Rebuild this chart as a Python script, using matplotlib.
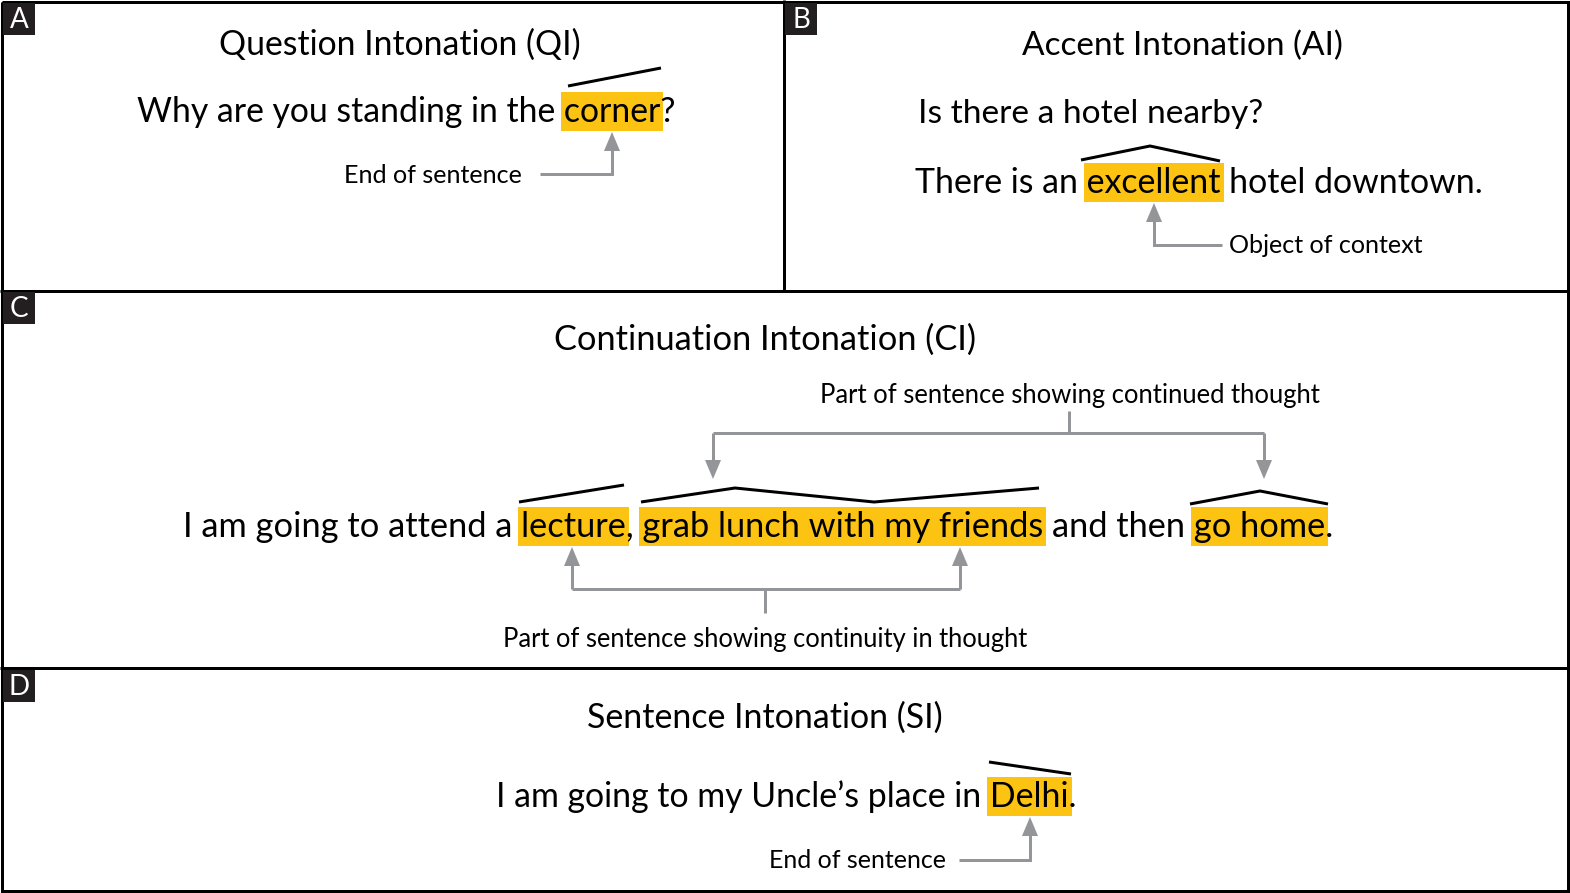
import matplotlib
matplotlib.use('Agg')
import matplotlib.pyplot as plt
from matplotlib.patches import Rectangle, Polygon

# ---------------- data (texts) ----------------
panel_letters = ['A', 'B', 'C', 'D']
titles = ['Question Intonation (QI)', 'Accent Intonation (AI)',
          'Continuation Intonation (CI)', 'Sentence Intonation (SI)']

qi_segments = ['Why are you standing in the ', 'corner', '?']
qi_highlight = [False, True, False]

ai_question = ['Is there a hotel nearby?']
ai_question_highlight = [False]
ai_segments = ['There is an ', 'excellent', ' hotel downtown.']
ai_highlight = [False, True, False]

ci_segments = ['I am going to attend a ', 'lecture', ', ',
               'grab lunch with my friends', ' and then ', 'go home', '.']
ci_highlight = [False, True, False, True, False, True, False]

si_segments = ['I am going to my Uncle\u2019s place in ', 'Delhi', '.']
si_highlight = [False, True, False]

annotation_labels = ['End of sentence', 'Object of context',
                     'Part of sentence showing continued thought',
                     'Part of sentence showing continuity in thought',
                     'End of sentence']

# ---------------- style ----------------
FONT = ['Lato', 'DejaVu Sans']
YELLOW = '#FCC312'
GRAY = '#939598'
DARK = '#231F20'
W, H = 1570, 893
PX = 72 / 100.0  # points per pixel

fig = plt.figure(figsize=(W / 100, H / 100), dpi=100)
ax = fig.add_axes([0, 0, 1, 1])
ax.set_xlim(0, W)
ax.set_ylim(H, 0)
ax.axis('off')
renderer = fig.canvas.get_renderer()


def text_width(s, fs):
    t = ax.text(0, 0, s, fontsize=fs, family=FONT)
    w = t.get_window_extent(renderer=renderer).width
    t.remove()
    return w


def fit_size(s, target):
    ref = 30.0
    fs = ref * target / text_width(s, ref)
    # one refinement step
    fs = fs * target / text_width(s, fs)
    return fs


def draw_text(s, x0, x1, baseline, color='black'):
    fs = fit_size(s, x1 - x0)
    ax.text(x0, baseline, s, fontsize=fs, family=FONT, ha='left',
            va='baseline', color=color, zorder=4)
    return fs


def draw_sentence(segments, flags, x0, x1, baseline):
    full = ''.join(segments)
    fs = draw_text(full, x0, x1, baseline)
    prefix = ''
    for seg, hl in zip(segments, flags):
        cur = prefix + seg
        if hl:
            right = x0 + text_width(cur, fs)
            left = right - text_width(seg, fs)
            ax.add_patch(Rectangle((left - 3, baseline - 30.5),
                                   right - left + 6, 39.5,
                                   facecolor=YELLOW, edgecolor='none', zorder=2))
        prefix = cur


def line(xs, ys, color='black', lw=3.0, z=5):
    ax.plot(xs, ys, color=color, lw=lw * PX, solid_capstyle='butt',
            solid_joinstyle='miter', zorder=z)


def arrow(points, color=GRAY):
    # points: polyline ending at arrow tip
    xs = [p[0] for p in points]
    ys = [p[1] for p in points]
    tx, ty = points[-1]
    px_, py_ = points[-2]
    L, Wd = 19.0, 16.0
    dx, dy = tx - px_, ty - py_
    n = (dx ** 2 + dy ** 2) ** 0.5
    ux, uy = dx / n, dy / n
    bx, by = tx - ux * L, ty - uy * L
    xs[-1], ys[-1] = bx + ux * 2, by + uy * 2
    line(xs, ys, color=color)
    ax.add_patch(Polygon([(tx, ty), (bx - uy * Wd / 2, by + ux * Wd / 2),
                          (bx + uy * Wd / 2, by - ux * Wd / 2)],
                         closed=True, facecolor=color, edgecolor='none', zorder=5))


# ---------------- frame ----------------
line([1.5, 1567.5, 1567.5, 1.5, 1.5], [1.5, 1.5, 890.5, 890.5, 1.5], color='black', z=6)
line([0, 1569], [290.5, 290.5], color='black', z=6)
line([0, 1569], [668, 668], color='black', z=6)
line([784, 784], [0, 290.5], color='black', z=6)

label_boxes = [(3, 3), (785, 3), (3, 292), (3, 670)]
for letter, (bx, by) in zip(panel_letters, label_boxes):
    ax.add_patch(Rectangle((bx, by), 32, 32, facecolor=DARK, edgecolor='none', zorder=7))
    ax.text(bx + 16, by + 17, letter, fontsize=20, family=FONT, color='white',
            ha='center', va='center', zorder=8)

# ---------------- titles ----------------
title_spans = [(219, 581, 55), (1022, 1344, 55), (554, 973, 350), (587, 942, 728)]
for t, (x0, x1, b) in zip(titles, title_spans):
    draw_text(t, x0, x1, b)

# ---------------- sentences ----------------
draw_sentence(qi_segments, qi_highlight, 137, 674, 122)
draw_sentence(ai_question, ai_question_highlight, 918, 1263, 123)
draw_sentence(ai_segments, ai_highlight, 915, 1482, 193)
draw_sentence(ci_segments, ci_highlight, 183, 1332, 537)
draw_sentence(si_segments, si_highlight, 496, 1075, 807)

# ---------------- intonation contours ----------------
contours = [
    [(568, 86), (661, 68)],
    [(1081, 160), (1150, 146), (1220, 161)],
    [(519, 502), (624, 485)],
    [(641, 502), (735, 488), (874, 502), (1039, 488)],
    [(1190, 504), (1260, 491), (1328, 504)],
    [(989, 762), (1071, 774)],
]
for c in contours:
    line([p[0] for p in c], [p[1] for p in c], color='black', lw=3.0)

# ---------------- annotation labels ----------------
label_spans = [(344, 522, 183), (1229, 1423, 253), (820, 1320, 403),
               (503, 1028, 647), (769, 946, 868)]
for t, (x0, x1, b) in zip(annotation_labels, label_spans):
    draw_text(t, x0, x1, b)

# ---------------- connectors ----------------
arrow([(540, 174), (612, 174), (612, 132)])
arrow([(1222, 245), (1154, 245), (1154, 203)])
# continued thought bracket
line([1069, 1069], [411, 433], color=GRAY)
line([713, 1264], [433, 433], color=GRAY)
arrow([(713, 433), (713, 479)])
arrow([(1264, 433), (1264, 479)])
# continuity bracket
line([765, 765], [589, 613], color=GRAY)
line([572, 960], [589, 589], color=GRAY)
arrow([(572, 589), (572, 547)])
arrow([(960, 589), (960, 547)])
# D
arrow([(959, 860), (1030, 860), (1030, 817)])

fig.savefig('out.png', dpi=100)
